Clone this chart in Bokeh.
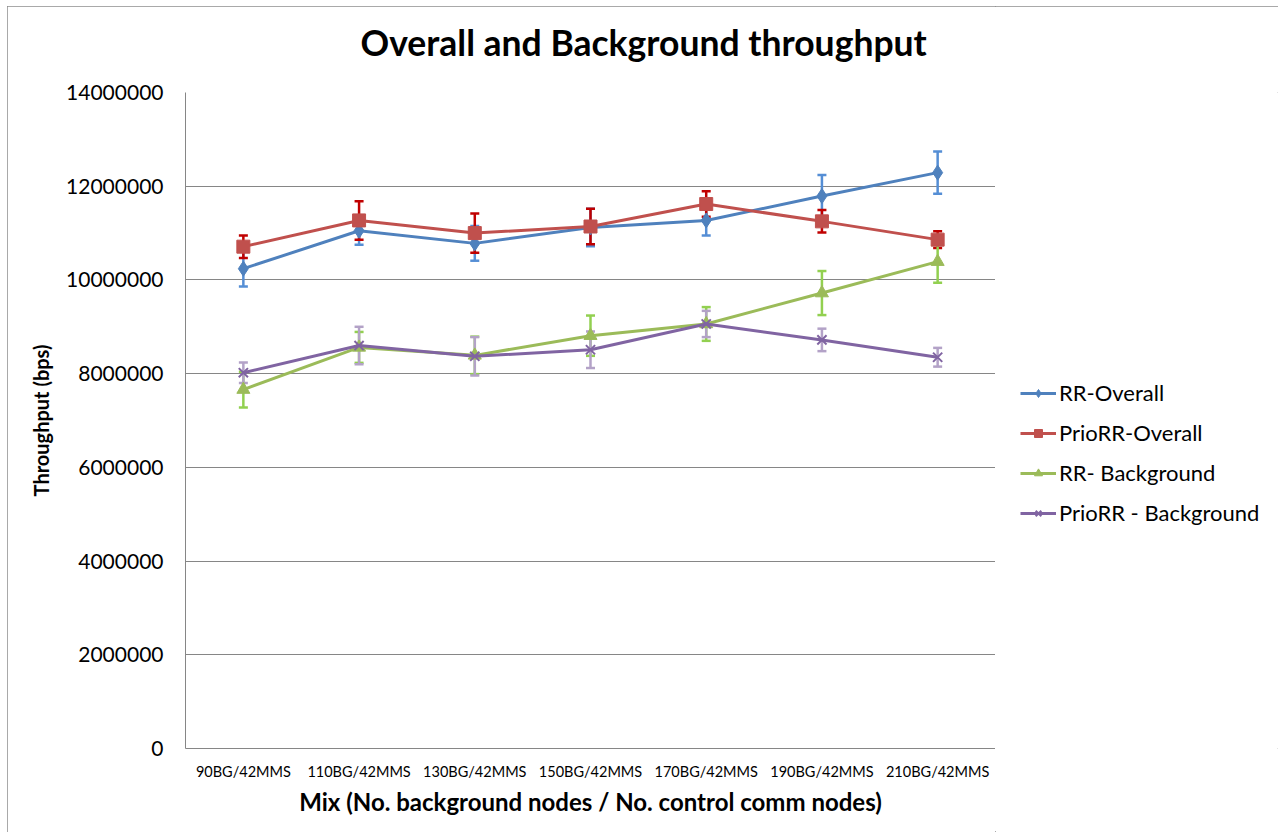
from bokeh.plotting import figure
from bokeh.layouts import row
from bokeh.models import (ColumnDataSource, FactorRange, FixedTicker, NumeralTickFormatter,
                          Whisker, TeeHead, Legend, LegendItem, Title, Range1d)
from bokeh.embed import file_html
from bokeh.resources import INLINE

categories = ["90BG/42MMS", "110BG/42MMS", "130BG/42MMS", "150BG/42MMS",
              "170BG/42MMS", "190BG/42MMS", "210BG/42MMS"]

rr_overall = [10240000, 11050000, 10780000, 11120000, 11270000, 11790000, 12290000]
rr_overall_err = [380000, 300000, 370000, 400000, 320000, 450000, 450000]

prio_overall = [10710000, 11270000, 11000000, 11140000, 11620000, 11250000, 10860000]
prio_overall_err = [240000, 410000, 420000, 380000, 270000, 240000, 180000]

rr_bg = [7660000, 8560000, 8390000, 8810000, 9060000, 9720000, 10390000]
rr_bg_err = [380000, 330000, 400000, 430000, 360000, 470000, 450000]

prio_bg = [8020000, 8600000, 8370000, 8510000, 9060000, 8720000, 8350000]
prio_bg_err = [220000, 400000, 410000, 390000, 280000, 240000, 200000]

y_ticks = [0, 2000000, 4000000, 6000000, 8000000, 10000000, 12000000, 14000000]

FONT = "Lato"

fig = figure(x_range=FactorRange(*categories, range_padding=0), y_range=(0, 14000000),
             width=988, height=826, output_backend="svg", toolbar_location=None,
             min_border_left=178, min_border_top=86, min_border_right=0, min_border_bottom=84)

spacer = Title(text=" ", text_font_size="10px", standoff=16)
main_title = Title(text="Overall and Background throughput", text_font=FONT,
                   text_font_size="35.5px", text_font_style="bold", text_color="#000000",
                   align="left", offset=175, standoff=0)
fig.add_layout(spacer, "above")
fig.add_layout(main_title, "above")

fig.outline_line_color = None
fig.xgrid.grid_line_color = None
fig.ygrid.grid_line_color = "#868686"
fig.ygrid.grid_line_width = 1

fig.yaxis.ticker = FixedTicker(ticks=y_ticks)
fig.yaxis.formatter = NumeralTickFormatter(format="0")
for ax in (fig.xaxis[0], fig.yaxis[0]):
    ax.axis_line_color = "#868686"
    ax.major_tick_line_color = None
    ax.minor_tick_line_color = None
    ax.major_tick_out = 0
    ax.major_tick_in = 0
    ax.major_label_text_font = FONT
    ax.major_label_text_color = "#000000"
    ax.axis_label_text_font = FONT
    ax.axis_label_text_font_style = "bold"
    ax.axis_label_text_color = "#000000"

fig.yaxis.major_label_text_font_size = "21px"
fig.yaxis.major_label_standoff = 22
fig.yaxis.axis_label = "Throughput (bps)"
fig.yaxis.axis_label_text_font_size = "20px"
fig.yaxis.axis_label_standoff = 10

fig.xaxis.major_label_text_font_size = "14.5px"
fig.xaxis.major_label_standoff = 14
fig.xaxis.axis_label = "Mix (No. background nodes / No. control comm nodes)"
fig.xaxis.axis_label_text_font_size = "24px"
fig.xaxis.axis_label_standoff = 4

# legend-only companion figure (same series, drawn outside its visible range)
leg_fig = figure(x_range=FactorRange(*categories), y_range=Range1d(-2000000, -1000000),
                 width=283, height=826, output_backend="svg", toolbar_location=None,
                 x_axis_location=None, y_axis_location=None,
                 min_border_left=0, min_border_right=0, min_border_top=0, min_border_bottom=0)
leg_fig.outline_line_color = None
leg_fig.grid.visible = False

series = [
    ("RR-Overall", rr_overall, rr_overall_err, "#4F81BD", "#558ED5", "diamond", 15),
    ("PrioRR-Overall", prio_overall, prio_overall_err, "#C0504D", "#C00000", "square", 13),
    ("RR- Background", rr_bg, rr_bg_err, "#9BBB59", "#92D050", "triangle", 13),
    ("PrioRR - Background", prio_bg, prio_bg_err, "#8064A2", "#B3A2C7", "x", 13),
]

items = []
for name, vals, errs, col, ecol, marker, size in series:
    src = ColumnDataSource(dict(
        x=categories, y=vals,
        lower=[v - e for v, e in zip(vals, errs)],
        upper=[v + e for v, e in zip(vals, errs)]))
    w = Whisker(source=src, base="x", lower="lower", upper="upper",
                line_color=ecol, line_width=2.5,
                upper_head=TeeHead(size=9, line_color=ecol, line_width=2.5),
                lower_head=TeeHead(size=9, line_color=ecol, line_width=2.5))
    fig.add_layout(w)
    fig.line("x", "y", source=src, line_color=col, line_width=3)
    ll = leg_fig.line("x", "y", source=src, line_color=col, line_width=3)
    if marker == "x":
        fig.scatter("x", "y", source=src, marker="x", size=size, line_color=col, line_width=2)
        lm = leg_fig.scatter("x", "y", source=src, marker="x", size=size, line_color=col, line_width=2)
    else:
        fig.scatter("x", "y", source=src, marker=marker, size=size,
                    fill_color=col, line_color=col)
        lm = leg_fig.scatter("x", "y", source=src, marker=marker, size=size,
                             fill_color=col, line_color=col)
    items.append(LegendItem(label=name, renderers=[ll, lm]))

legend = Legend(items=items, location=(25, 222), orientation="vertical")
legend.border_line_color = None
legend.background_fill_alpha = 0
legend.label_text_font = FONT
legend.label_text_font_size = "22px"
legend.label_text_color = "#000000"
legend.glyph_width = 36
legend.glyph_height = 20
legend.label_height = 20
legend.label_standoff = 3
legend.spacing = 13
legend.padding = 0
legend.margin = 0
leg_fig.add_layout(legend)

p = row(fig, leg_fig, spacing=0)
p.styles = {"margin-left": "7px", "margin-top": "6px",
            "outline": "1px solid #8c8c8c", "outline-offset": "-1px"}

open("out.html", "w").write(file_html(p, INLINE))
